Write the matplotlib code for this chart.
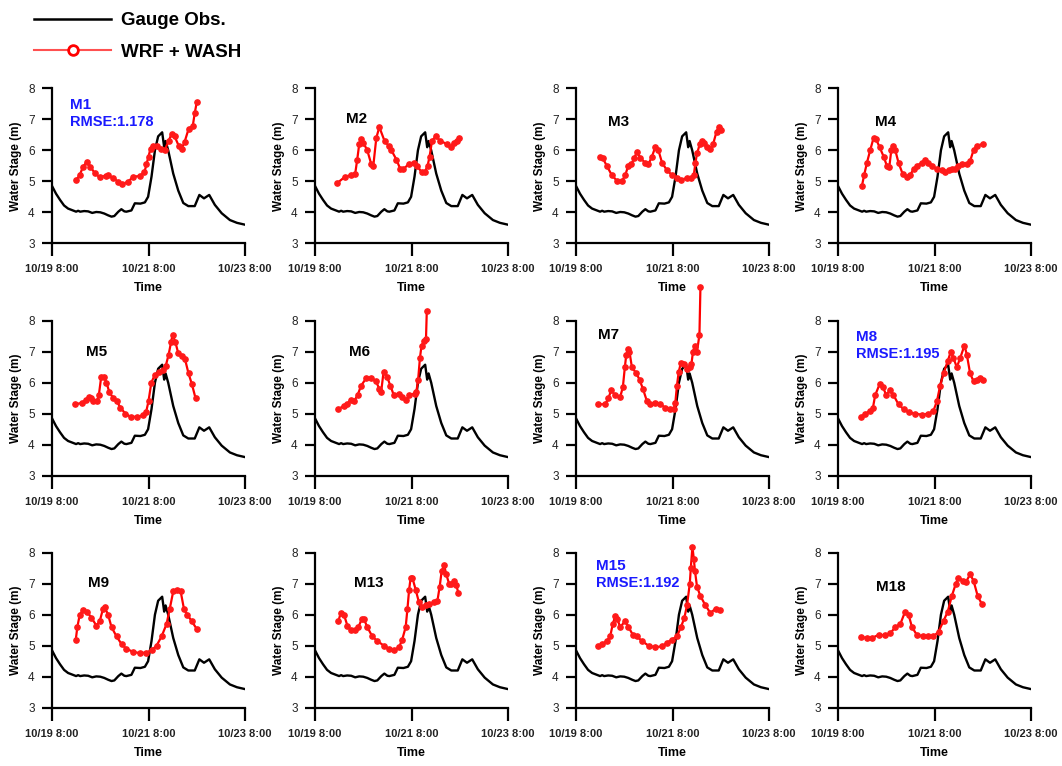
import matplotlib
matplotlib.use('Agg')
import matplotlib.pyplot as plt
from matplotlib.lines import Line2D

plt.rcParams['font.family'] = ['Liberation Sans', 'DejaVu Sans']

# ---------------- data ----------------
time_ticks = [0, 48, 96]
time_tick_labels = ['10/19 8:00', '10/21 8:00', '10/23 8:00']
stage_ticks = [3, 4, 5, 6, 7, 8]

# Gauge observation (hours after 10/19 8:00, water stage m)
obs_t = [0, 2, 4, 6, 8, 10, 12, 13, 14, 16, 18, 20, 22, 24, 26, 28, 29.6, 31, 33, 34.5, 36, 37, 39.5,
         41.2, 44, 46.2, 47.8, 49.5, 51.2, 52.8, 54.8, 55.8, 56.5, 57.8, 60.3, 62.8, 65.3, 67.8, 71,
         73.3, 75.6, 78.2, 81, 84.4, 88.5, 92, 96]
obs_v = [4.85, 4.6, 4.4, 4.22, 4.12, 4.07, 4.02, 4.05, 4.02, 4.04, 4.03, 3.98, 4.01, 4.0, 3.96, 3.9, 3.86,
         3.88, 4.02, 4.1, 4.03, 4.02, 4.06, 4.29, 4.28, 4.32, 4.5, 5.15, 6.0, 6.45, 6.58, 6.1, 6.3, 6.0,
         5.25, 4.7, 4.3, 4.2, 4.2, 4.56, 4.45, 4.56, 4.24, 3.97, 3.75, 3.66, 3.6]

# WRF + WASH simulations
m1_t = [12, 13.8, 15.4, 17.4, 19.1, 21.3, 23.8, 26.7, 27.9, 30.4, 32.9, 35, 37.9, 40.4, 43.7, 46, 47, 48,
        49, 50, 52, 54, 56, 58, 59.5, 61, 63, 64.5, 66, 68, 70, 71, 72]
m1_v = [5.04, 5.2, 5.47, 5.63, 5.47, 5.26, 5.13, 5.18, 5.2, 5.1, 4.99, 4.91, 4.99, 5.15, 5.17, 5.3, 5.55,
        5.8, 6.05, 6.15, 6.15, 6.05, 6.0, 6.3, 6.53, 6.45, 6.15, 6.05, 6.28, 6.7, 6.78, 7.2, 7.55]

m2_t = [11, 15, 18, 20, 21, 22, 23, 24, 26, 28, 29, 30.5, 32, 34.6, 36.6, 38, 40.5, 42.4, 44, 46.6, 49,
        50.7, 53, 54.6, 56, 57, 58.2, 60, 62.4, 65.7, 67.4, 69, 70.7, 71.5]
m2_v = [4.94, 5.15, 5.2, 5.25, 5.7, 6.2, 6.35, 6.25, 6.0, 5.55, 5.5, 6.4, 6.75, 6.3, 6.15, 6.0, 5.7, 5.4,
        5.4, 5.55, 5.6, 5.5, 5.3, 5.3, 5.5, 5.8, 6.3, 6.45, 6.3, 6.2, 6.1, 6.25, 6.3, 6.4]

m3_t = [12, 13.3, 15.3, 17.8, 20.6, 22.8, 24.5, 26, 27.5, 29, 30.3, 32, 34.4, 36, 37.8, 39.4, 41, 42.8,
        45.3, 47.8, 50.2, 52, 55.2, 57, 58.6, 59.4, 60.2, 61.6, 62.7, 63.6, 65.2, 66.9, 68.2, 69.9, 71, 72.2]
m3_v = [5.77, 5.75, 5.5, 5.2, 5.0, 5.0, 5.2, 5.5, 5.55, 5.75, 5.95, 5.75, 5.6, 5.55, 5.8, 6.1, 6.0, 5.6,
        5.35, 5.2, 5.1, 5.05, 5.1, 5.1, 5.2, 5.6, 5.9, 6.2, 6.3, 6.25, 6.1, 6.05, 6.2, 6.6, 6.75, 6.65]

m4_t = [11.9, 13, 14.4, 16, 17.7, 19, 20.7, 22.7, 24.3, 25.5, 26.5, 27.3, 28.5, 30.1, 32.1, 34.3, 35.9,
        37.6, 39.2, 41.7, 43.4, 45, 46.7, 49.2, 51.7, 53.3, 55, 56.6, 58.3, 59.9, 61.6, 64.1, 65.7, 67.4,
        69, 72]
m4_v = [4.85, 5.2, 5.6, 6.0, 6.4, 6.35, 6.1, 5.8, 5.5, 5.45, 6.0, 6.15, 6.0, 5.6, 5.25, 5.15, 5.2, 5.4,
        5.5, 5.6, 5.7, 5.6, 5.5, 5.4, 5.35, 5.3, 5.35, 5.4, 5.4, 5.5, 5.55, 5.55, 5.65, 6.0, 6.15, 6.2]

m5_t = [11.3, 15, 16.8, 18.2, 19.4, 20.6, 22.3, 23.3, 24.5, 25.7, 27.1, 28.5, 30.5, 32.2, 34, 36.5, 39.1,
        42.5, 45.1, 46.8, 48, 49.4, 51.1, 53.2, 55.4, 56.6, 58, 59.2, 60, 61.4, 62.8, 64.8, 66.2, 67.9,
        69.6, 71.4]
m5_v = [5.3, 5.35, 5.45, 5.55, 5.5, 5.4, 5.4, 5.6, 6.2, 6.2, 6.0, 5.7, 5.5, 5.4, 5.2, 5.0, 4.9, 4.9,
        4.95, 5.05, 5.4, 6.0, 6.25, 6.35, 6.4, 6.55, 6.9, 7.3, 7.55, 7.3, 6.95, 6.85, 6.75, 6.3, 5.95, 5.5]

m6_t = [11.4, 14.3, 16, 17.7, 19.4, 21.2, 22.9, 25.5, 28, 30.3, 32, 32.9, 34.1, 35.8, 37.5, 39.2, 41.8,
        43.5, 45.3, 47, 49.6, 50.4, 51.3, 52.2, 53, 54.4, 55.2, 55.6]
m6_v = [5.14, 5.25, 5.3, 5.45, 5.4, 5.6, 5.9, 6.15, 6.15, 6.05, 5.8, 5.7, 6.35, 6.2, 5.9, 5.6, 5.65, 5.55,
        5.45, 5.6, 5.65, 5.7, 6.1, 6.8, 7.2, 7.35, 7.4, 8.3]

m7_t = [11.1, 14.5, 16.1, 17.5, 19.5, 22, 23.3, 24.3, 25, 25.8, 26.6, 27.8, 30, 31.6, 33.3, 35.3, 36.9,
        39.4, 41.9, 44.4, 46.9, 48.6, 49.4, 50.2, 51.1, 52.2, 53.6, 55.2, 56.6, 57.4, 58.2, 59.1, 60.2,
        61.4, 61.9]
m7_v = [5.31, 5.3, 5.5, 5.75, 5.6, 5.55, 5.85, 6.5, 6.9, 7.1, 7.0, 6.5, 6.3, 6.1, 5.8, 5.4, 5.3, 5.35,
        5.3, 5.2, 5.15, 5.15, 5.35, 5.9, 6.35, 6.65, 6.6, 6.45, 6.5, 6.6, 7.0, 7.2, 7.0, 7.55, 9.1]

m8_t = [11.6, 13.6, 16.1, 17.4, 18.5, 20.7, 22.4, 24, 25.7, 27.6, 30.1, 32.6, 35.1, 38.4, 41.7, 45, 47.5,
        49.2, 50.8, 52.5, 54.6, 56.1, 57.4, 59.1, 60.8, 62.9, 64.1, 65.7, 67.4, 69, 70.7, 72]
m8_v = [4.9, 5.0, 5.1, 5.2, 5.6, 5.95, 5.85, 5.6, 5.75, 5.6, 5.3, 5.15, 5.05, 5.0, 4.97, 5.0, 5.1, 5.4,
        5.9, 6.3, 6.7, 7.0, 6.8, 6.5, 6.8, 7.2, 6.9, 6.3, 6.05, 6.1, 6.15, 6.1]

m9_t = [11.8, 12.6, 13.8, 15.4, 17.4, 19.6, 22.1, 23.8, 25.4, 26.2, 27.9, 29.6, 32.1, 34.6, 37, 40.4,
        43.7, 47, 49.5, 52, 54.5, 57, 58.6, 60.3, 62, 64, 65.6, 67.3, 69.4, 71.9]
m9_v = [5.18, 5.6, 6.0, 6.15, 6.1, 5.9, 5.65, 5.8, 6.2, 6.25, 6.0, 5.6, 5.3, 5.05, 4.9, 4.8, 4.76, 4.78,
        4.85, 5.0, 5.3, 5.7, 6.2, 6.75, 6.8, 6.75, 6.2, 6.0, 5.8, 5.55]

m13_t = [11.6, 12.8, 14.4, 16.1, 17.7, 19.9, 21.6, 23.2, 24.4, 26, 28.5, 31, 34.3, 36.8, 39.3, 41.8,
         43.4, 45.1, 46, 46.8, 47.6, 48.4, 50.1, 51.7, 53.4, 55.1, 56.7, 59.2, 60.9, 62, 63, 64.2, 65.3,
         66.7, 67.8, 69.2, 70.3, 71.3]
m13_v = [5.79, 6.05, 6.0, 5.65, 5.5, 5.5, 5.6, 5.85, 5.85, 5.6, 5.3, 5.15, 5.0, 4.9, 4.85, 4.95, 5.2,
         5.6, 6.2, 6.8, 7.2, 7.2, 6.8, 6.4, 6.25, 6.3, 6.35, 6.4, 6.45, 6.9, 7.4, 7.6, 7.3, 7.0, 7.0, 7.1,
         6.95, 6.7]

m15_t = [11.1, 12.8, 15.3, 17, 18.3, 19.5, 20.6, 22, 24.5, 26.1, 28.3, 30.3, 32.8, 36.1, 39.4, 42.8,
         45.3, 47.8, 50.2, 52.2, 53.9, 55.2, 56.6, 57.1, 57.9, 58.6, 59.2, 60.2, 61.9, 64.4, 66.9, 69.4, 71.5]
m15_v = [4.98, 5.05, 5.15, 5.3, 5.7, 5.95, 5.85, 5.6, 5.8, 5.6, 5.35, 5.3, 5.15, 5.0, 4.95, 4.98, 5.1,
         5.2, 5.3, 5.6, 5.9, 6.3, 7.0, 7.5, 8.2, 7.8, 7.4, 6.9, 6.6, 6.3, 6.05, 6.2, 6.15]

m18_t = [11.6, 14.4, 16.9, 20.2, 23.5, 26, 28.5, 31, 33.4, 35.1, 36.8, 39.2, 42.5, 45, 47.5, 50, 52.5,
         54.6, 56.6, 58.6, 59.9, 62.4, 63.6, 65.7, 67.4, 69.5, 71.5]
m18_v = [5.28, 5.25, 5.25, 5.35, 5.33, 5.4, 5.6, 5.7, 6.1, 6.0, 5.6, 5.35, 5.3, 5.3, 5.3, 5.45, 5.8,
         6.1, 6.6, 7.0, 7.2, 7.1, 7.05, 7.3, 7.1, 6.6, 6.35]

panel_names = ['M1', 'M2', 'M3', 'M4', 'M5', 'M6', 'M7', 'M8', 'M9', 'M13', 'M15', 'M18']
panel_sim_t = [m1_t, m2_t, m3_t, m4_t, m5_t, m6_t, m7_t, m8_t, m9_t, m13_t, m15_t, m18_t]
panel_sim_v = [m1_v, m2_v, m3_v, m4_v, m5_v, m6_v, m7_v, m8_v, m9_v, m13_v, m15_v, m18_v]
rmse_labels = {'M1': 'RMSE:1.178', 'M8': 'RMSE:1.195', 'M15': 'RMSE:1.192'}

# --------------- layout ----------------
label_pos = {'M1': (8.8, 7.46), 'M2': (15.5, 7.0), 'M3': (16, 6.92), 'M4': (18.5, 6.92),
             'M5': (16.8, 7.0), 'M6': (16.9, 7.0), 'M7': (11.1, 7.54), 'M8': (9.1, 7.48),
             'M9': (17.9, 7.03), 'M13': (19.4, 7.03), 'M15': (9.8, 7.57), 'M18': (19, 6.88)}

W, H = 1062, 766
fig = plt.figure(figsize=(W / 100, H / 100), dpi=100)
col_left = [52, 315, 576, 838]
row_top = [88.3, 320.7, 552.7]
ax_w, ax_h = 193, 155
blue = '#1a1aff'

for i, name in enumerate(panel_names):
    r, c = divmod(i, 4)
    ax = fig.add_axes([col_left[c] / W, 1 - (row_top[r] + ax_h) / H, ax_w / W, ax_h / H])
    ax.plot(obs_t, obs_v, color='black', lw=1.7, zorder=2)
    ax.plot(panel_sim_t[i], panel_sim_v[i], color='#ff0000', lw=1.6, marker='o', ms=3.8,
            mec='#ff1a1a', mfc='#ff1a1a', clip_on=False, zorder=3)
    ax.set_xlim(0, 96)
    ax.set_ylim(3, 8)
    ax.set_xticks(time_ticks)
    ax.set_xticklabels(time_tick_labels, fontsize=8, fontweight='bold', color='#222222')
    ax.set_yticks(stage_ticks)
    ax.set_yticklabels([str(v) for v in stage_ticks], fontsize=8.5, color='#222222')
    ax.tick_params(axis='x', direction='out', length=9, width=1.6, pad=6)
    ax.tick_params(axis='y', direction='out', length=7.5, width=1.6, pad=5)
    for s in ['top', 'right']:
        ax.spines[s].set_visible(False)
    for s in ['left', 'bottom']:
        ax.spines[s].set_linewidth(1.6)
    ax.set_xlabel('Time', fontsize=9, fontweight='bold', labelpad=6)
    ax.set_ylabel('Water Stage (m)', fontsize=8.5, fontweight='bold', labelpad=4)
    lx, ly = label_pos[name]
    if name in rmse_labels:
        ax.text(lx, ly, name, fontsize=11, fontweight='bold', color=blue, va='center', ha='left')
        ax.text(lx, ly - 0.54, rmse_labels[name], fontsize=10.5, fontweight='bold', color=blue,
                va='center', ha='left')
    else:
        ax.text(lx, ly, name, fontsize=11, fontweight='bold', color='black', va='center', ha='left')

handles = [Line2D([], [], color='black', lw=1.8),
           Line2D([], [], color='#ff5050', lw=1.5, marker='o', ms=7, mfc='white', mec='#ff0000', mew=2)]
fig.legend(handles, ['Gauge Obs.', 'WRF + WASH'], loc='upper left', bbox_to_anchor=(23 / W, 1 - 1 / H),
           frameon=False, handlelength=4.1, labelspacing=0.75, handletextpad=0.55, borderpad=0.1,
           prop={'size': 13.5, 'weight': 'bold'})

fig.savefig('out.png', dpi=100)
